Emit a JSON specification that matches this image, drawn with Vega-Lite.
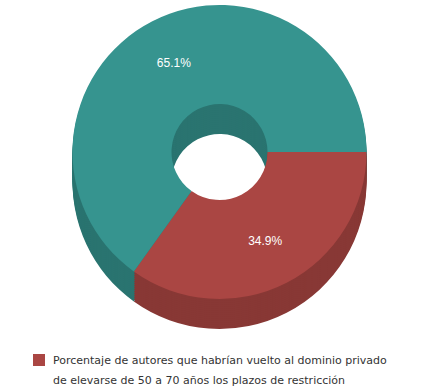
{
  "$schema": "https://vega.github.io/schema/vega-lite/v6.json",
  "width": 439,
  "height": 304,
  "padding": 0,
  "autosize": {"type": "pad"},
  "background": "white",
  "config": {"view": {"stroke": null}},
  "data": {
    "values": [
      {"categoria": "Porcentaje de autores que habrían vuelto al dominio privado de elevarse de 50 a 70 años los plazos de restricción", "valor": 34.9, "orden": 1, "etiqueta": "34.9%"},
      {"categoria": "Resto", "valor": 65.1, "orden": 2, "etiqueta": "65.1%"}
    ]
  },
  "encoding": {
    "theta": {"field": "valor", "type": "quantitative", "stack": true, "scale": {"range": [1.5708, 7.854]}},
    "order": {"field": "orden", "type": "ordinal"}
  },
  "layer": [
    {"mark": {"type": "arc", "outerRadius": 147, "innerRadius": 48, "yOffset": 30}, "encoding": {"color": {"condition": {"test": "datum.orden === 2", "value": "#2A7470"}, "value": "#883835"}}},
    {"mark": {"type": "arc", "outerRadius": 147, "innerRadius": 48, "yOffset": 28}, "encoding": {"color": {"condition": {"test": "datum.orden === 2", "value": "#2A7470"}, "value": "#883835"}}},
    {"mark": {"type": "arc", "outerRadius": 147, "innerRadius": 48, "yOffset": 26}, "encoding": {"color": {"condition": {"test": "datum.orden === 2", "value": "#2A7470"}, "value": "#883835"}}},
    {"mark": {"type": "arc", "outerRadius": 147, "innerRadius": 48, "yOffset": 24}, "encoding": {"color": {"condition": {"test": "datum.orden === 2", "value": "#2A7470"}, "value": "#883835"}}},
    {"mark": {"type": "arc", "outerRadius": 147, "innerRadius": 48, "yOffset": 22}, "encoding": {"color": {"condition": {"test": "datum.orden === 2", "value": "#2A7470"}, "value": "#883835"}}},
    {"mark": {"type": "arc", "outerRadius": 147, "innerRadius": 48, "yOffset": 20}, "encoding": {"color": {"condition": {"test": "datum.orden === 2", "value": "#2A7470"}, "value": "#883835"}}},
    {"mark": {"type": "arc", "outerRadius": 147, "innerRadius": 48, "yOffset": 18}, "encoding": {"color": {"condition": {"test": "datum.orden === 2", "value": "#2A7470"}, "value": "#883835"}}},
    {"mark": {"type": "arc", "outerRadius": 147, "innerRadius": 48, "yOffset": 16}, "encoding": {"color": {"condition": {"test": "datum.orden === 2", "value": "#2A7470"}, "value": "#883835"}}},
    {"mark": {"type": "arc", "outerRadius": 147, "innerRadius": 48, "yOffset": 14}, "encoding": {"color": {"condition": {"test": "datum.orden === 2", "value": "#2A7470"}, "value": "#883835"}}},
    {"mark": {"type": "arc", "outerRadius": 147, "innerRadius": 48, "yOffset": 12}, "encoding": {"color": {"condition": {"test": "datum.orden === 2", "value": "#2A7470"}, "value": "#883835"}}},
    {"mark": {"type": "arc", "outerRadius": 147, "innerRadius": 48, "yOffset": 10}, "encoding": {"color": {"condition": {"test": "datum.orden === 2", "value": "#2A7470"}, "value": "#883835"}}},
    {"mark": {"type": "arc", "outerRadius": 147, "innerRadius": 48, "yOffset": 8}, "encoding": {"color": {"condition": {"test": "datum.orden === 2", "value": "#2A7470"}, "value": "#883835"}}},
    {"mark": {"type": "arc", "outerRadius": 147, "innerRadius": 48, "yOffset": 6}, "encoding": {"color": {"condition": {"test": "datum.orden === 2", "value": "#2A7470"}, "value": "#883835"}}},
    {"mark": {"type": "arc", "outerRadius": 147, "innerRadius": 48, "yOffset": 4}, "encoding": {"color": {"condition": {"test": "datum.orden === 2", "value": "#2A7470"}, "value": "#883835"}}},
    {"mark": {"type": "arc", "outerRadius": 147, "innerRadius": 48, "yOffset": 2}, "encoding": {"color": {"condition": {"test": "datum.orden === 2", "value": "#2A7470"}, "value": "#883835"}}},
    {
      "mark": {"type": "arc", "outerRadius": 147, "innerRadius": 48},
      "encoding": {
        "color": {
          "field": "categoria",
          "type": "nominal",
          "scale": {
            "domain": ["Porcentaje de autores que habrían vuelto al dominio privado de elevarse de 50 a 70 años los plazos de restricción", "Resto"],
            "range": ["#AA4643", "#36948F"]
          },
          "legend": {
            "orient": "none",
            "legendX": 33,
            "legendY": 354,
            "title": null,
            "values": ["Porcentaje de autores que habrían vuelto al dominio privado de elevarse de 50 a 70 años los plazos de restricción"],
            "symbolType": "square",
            "symbolSize": 144,
            "symbolStrokeWidth": 0,
            "labelFont": "DejaVu Sans",
            "labelFontSize": 11,
            "labelColor": "#333333",
            "labelLimit": 420,
            "labelOffset": 8,
            "labelBaseline": "top",
            "labelExpr": "['Porcentaje de autores que habrían vuelto al dominio privado', 'de elevarse de 50 a 70 años los plazos de restricción']",
            "encode": {"labels": {"update": {"lineHeight": {"value": 20}, "dy": {"value": -5}}}}
          }
        }
      }
    },
    {
      "mark": {"type": "text", "radius": 100, "fontSize": 12, "font": "Liberation Sans", "fill": "#FFFFFF"},
      "encoding": {"text": {"field": "etiqueta", "type": "nominal"}}
    }
  ]
}
